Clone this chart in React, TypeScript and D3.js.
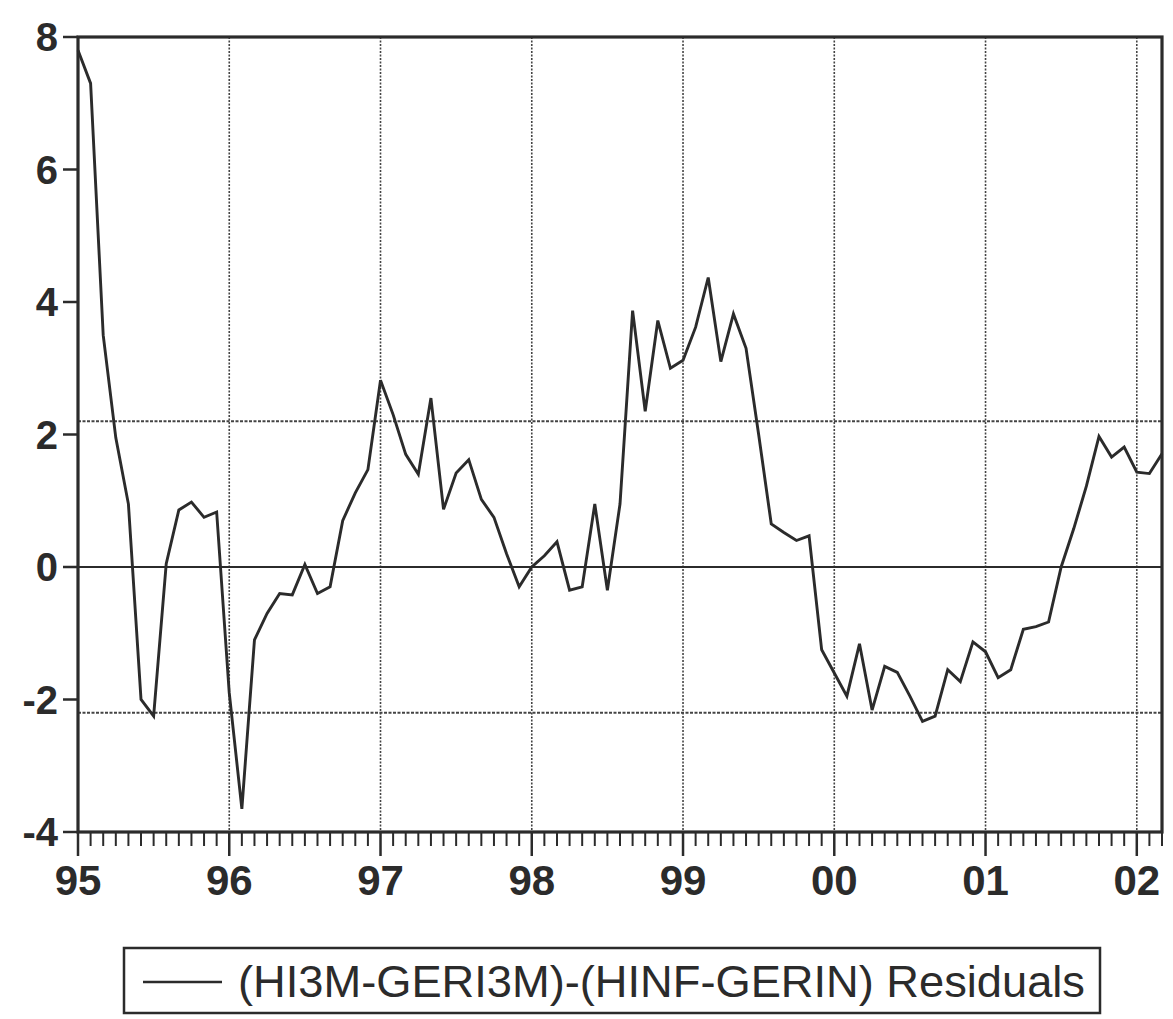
import * as d3 from 'd3';

// monthly residuals, 1995:01 .. 2002:03
const residuals = [
  7.8, 7.3, 3.5, 1.95, 0.95, -2.0, -2.25, 0.05, 0.86, 0.98, 0.75, 0.83,
  -1.9, -3.65, -1.1, -0.7, -0.4, -0.42, 0.04, -0.4, -0.3, 0.7, 1.12, 1.47,
  2.82, 2.3, 1.7, 1.4, 2.55, 0.87, 1.42, 1.62, 1.02, 0.75, 0.2, -0.3,
  0.0, 0.17, 0.38, -0.35, -0.3, 0.95, -0.35, 0.95, 3.87, 2.35, 3.72, 3.0,
  3.12, 3.62, 4.37, 3.1, 3.82, 3.3, 2.0, 0.65, 0.52, 0.4, 0.47, -1.25,
  -1.6, -1.95, -1.16, -2.16, -1.5, -1.59, -1.95, -2.33, -2.25, -1.55, -1.73, -1.13,
  -1.28, -1.67, -1.55, -0.94, -0.9, -0.83, 0.0, 0.58, 1.22, 1.97, 1.66, 1.81,
  1.43, 1.41, 1.71,
];
const yearLabels = ['95', '96', '97', '98', '99', '00', '01', '02'];
const yTicks = [8, 6, 4, 2, 0, -2, -4];
const seBand = [2.2, -2.2];
const seriesName = '(HI3M-GERI3M)-(HINF-GERIN) Residuals';

const W = 1173;
const H = 1019;
const left = 78;
const right = 1162;
const top = 37;
const bottom = 832;
const ink = '#2b2b2b';
const font = "'Liberation Sans', Arial, Helvetica, sans-serif";

const App = () => {
  const x = d3.scaleLinear().domain([0, residuals.length - 1]).range([left, right]);
  const y = d3.scaleLinear().domain([-4, 8]).range([bottom, top]);

  const line = d3
    .line<number>()
    .x((_, i) => x(i))
    .y((d) => y(d));

  const months = d3.range(residuals.length);

  return (
    <div style={{ position: 'absolute', left: 0, top: 0 }}>
      <svg width={W} height={H} style={{ display: 'block', background: '#fff' }}>
        {/* vertical year grid */}
        {yearLabels.slice(1).map((_, k) => (
          <line
            key={'vg' + k}
            x1={x((k + 1) * 12)}
            x2={x((k + 1) * 12)}
            y1={top}
            y2={bottom}
            stroke="#444"
            strokeWidth={1.6}
            strokeDasharray="2,1.5"
          />
        ))}
        {/* +/- standard error lines */}
        {seBand.map((v) => (
          <line
            key={'se' + v}
            x1={left}
            x2={right}
            y1={y(v)}
            y2={y(v)}
            stroke="#444"
            strokeWidth={1.8}
            strokeDasharray="3,1.5"
          />
        ))}
        {/* zero line */}
        <line x1={left} x2={right} y1={y(0)} y2={y(0)} stroke={ink} strokeWidth={2.2} />

        <path d={line(residuals) ?? ''} fill="none" stroke={ink} strokeWidth={2.9} strokeLinejoin="miter" />

        {/* frame */}
        <rect x={left} y={top} width={right - left} height={bottom - top} fill="none" stroke={ink} strokeWidth={3.2} />

        {/* y axis */}
        {yTicks.map((t) => (
          <g key={'yt' + t}>
            <line x1={left - 15} x2={left} y1={y(t)} y2={y(t)} stroke={ink} strokeWidth={2.5} />
            <text
              x={left - 20}
              y={y(t)}
              dy="0.36em"
              textAnchor="end"
              fontFamily={font}
              fontWeight="bold"
              fontSize={40}
              fill={ink}
            >
              {t}
            </text>
          </g>
        ))}

        {/* x axis month ticks */}
        {months.map((i) => (
          <line
            key={'mt' + i}
            x1={x(i)}
            x2={x(i)}
            y1={bottom}
            y2={bottom + (i % 12 === 0 ? 24 : 14)}
            stroke={ink}
            strokeWidth={i % 12 === 0 ? 2.5 : 2}
          />
        ))}
        {yearLabels.map((lab, k) => (
          <text
            key={'xl' + lab}
            x={x(k * 12)}
            y={895}
            textAnchor="middle"
            fontFamily={font}
            fontWeight="bold"
            fontSize={42}
            fill={ink}
          >
            {lab}
          </text>
        ))}

        {/* legend */}
        <rect x={124} y={948} width={976} height={65} fill="#fff" stroke={ink} strokeWidth={2.5} />
        <line x1={143} x2={222} y1={982} y2={982} stroke={ink} strokeWidth={2.5} />
        <text x={238} y={997} fontFamily={font} fontSize={44} fill={ink} textLength={847} lengthAdjust="spacingAndGlyphs">
          {seriesName}
        </text>
      </svg>
    </div>
  );
};

export default App;
